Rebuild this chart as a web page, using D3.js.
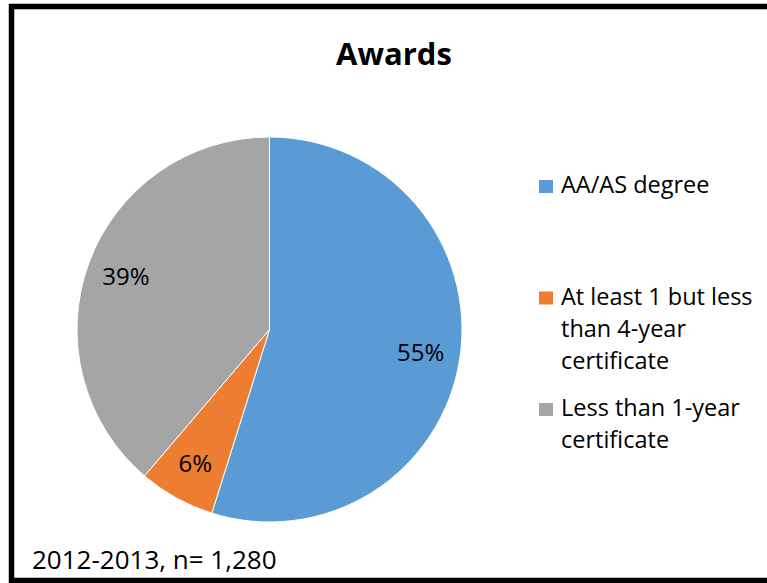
<!DOCTYPE html>
<html>
<head>
<meta charset="utf-8">
<script src="https://cdn.jsdelivr.net/npm/d3@7"></script>
<style>
  body { margin: 0; background: #fff; }
  svg { display: block; font-family: "Open Sans", sans-serif; }
</style>
</head>
<body>
<svg id="chart"></svg>
<script>
// data (counts, total n = 1,280)
var categories = ["AA/AS degree", "At least 1 but less than 4-year certificate", "Less than 1-year certificate"];
var legendLines = [["AA/AS degree"], ["At least 1 but less", "than 4-year", "certificate"], ["Less than 1-year", "certificate"]];
var counts = [702, 82, 496];
var colors = ["#5B9BD5", "#ED7D31", "#A5A5A5"];
var title = "Awards";
var footnote = "2012-2013, n= 1,280";

var width = 767, height = 583;
var svg = d3.select("#chart").attr("width", width).attr("height", height);

// frame (right side runs off the picture)
svg.append("path")
  .attr("d", "M800,6.5 H11.5 V580.5 H800")
  .attr("fill", "none")
  .attr("stroke", "#000")
  .attr("stroke-width", 5.5);

svg.append("text")
  .attr("x", 394).attr("y", 65)
  .attr("text-anchor", "middle")
  .attr("font-weight", "bold")
  .attr("font-size", 31)
  .text(title);

var cx = 269.5, cy = 329.5, r = 192.5;
var total = d3.sum(counts);
var data = categories.map((c, i) => ({cat: c, value: counts[i], color: colors[i]}));

var pie = d3.pie().sort(null).value(d => d.value);
var arc = d3.arc().innerRadius(0).outerRadius(r);
var labelArc = d3.arc().innerRadius(153).outerRadius(153);
var pct = d3.format(".0%");

var g = svg.append("g").attr("transform", "translate(" + cx + "," + cy + ")");
var arcs = pie(data);

g.selectAll("path.slice")
  .data(arcs)
  .join("path")
    .attr("class", "slice")
    .attr("d", arc)
    .attr("fill", d => d.data.color)
    .attr("stroke", "#fff")
    .attr("stroke-width", 1);

g.selectAll("text.lbl")
  .data(arcs)
  .join("text")
    .attr("class", "lbl")
    .attr("transform", d => "translate(" + labelArc.centroid(d) + ")")
    .attr("text-anchor", "middle")
    .attr("dy", "0.35em")
    .attr("font-size", 24)
    .attr("fill", "#000")
    .text(d => pct(d.data.value / total));

// legend
var legY = d3.scalePoint().domain(categories).range([180, 403]);
var leg = svg.append("g").selectAll("g")
  .data(data)
  .join("g")
    .attr("transform", d => "translate(539," + legY(d.cat) + ")");

leg.append("rect")
  .attr("width", 14).attr("height", 13)
  .attr("fill", d => d.color);

leg.append("text")
  .attr("font-size", 23.5)
  .attr("fill", "#000")
  .selectAll("tspan")
  .data((d, i) => legendLines[i])
  .join("tspan")
    .attr("x", 22)
    .attr("y", (d, j) => 13 + j * 32)
    .text(d => d);

svg.append("text")
  .attr("x", 32).attr("y", 569)
  .attr("font-size", 26)
  .attr("fill", "#000")
  .text(footnote);
</script>
</body>
</html>
